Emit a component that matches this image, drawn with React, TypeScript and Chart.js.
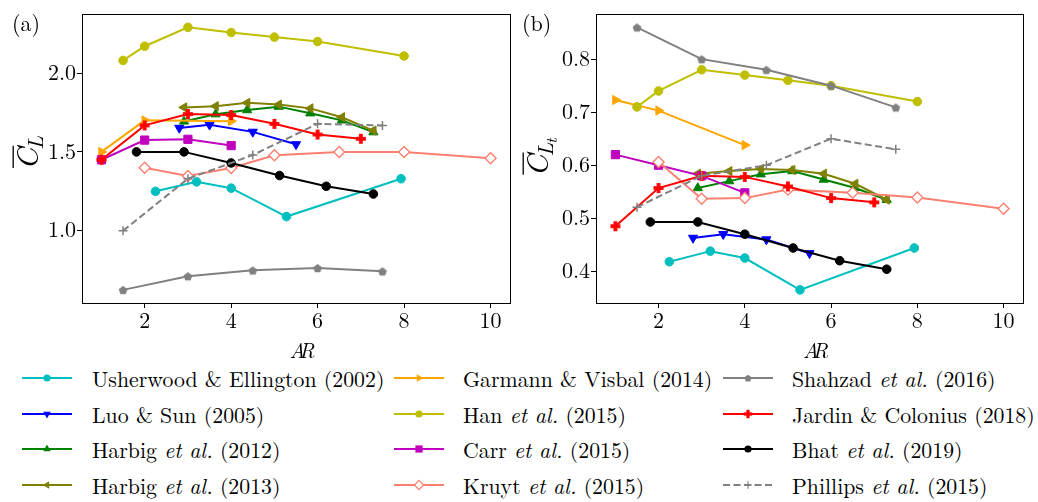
import React, { useEffect, useRef } from "react";
import { Chart, registerables } from "chart.js";
Chart.register(...registerables);

const FONT = "'Latin Modern Roman', 'Liberation Serif', serif";

// ---- data (aspect ratio AR, mean CL for panel a, mean CLt for panel b) ----
const arUsherwood = [2.25, 3.2, 4.0, 5.28, 7.93];
const clUsherwood = [1.25, 1.31, 1.27, 1.09, 1.33];
const cltUsherwood = [0.418, 0.438, 0.425, 0.365, 0.444];

const arLuo = [2.8, 3.5, 4.5, 5.5];
const clLuo = [1.652, 1.672, 1.627, 1.548];
const cltLuo = [0.463, 0.47, 0.46, 0.434];

const arHarbig = [2.91, 3.64, 4.37, 5.1, 5.83, 6.56, 7.29];
const clHarbig2012 = [1.693, 1.739, 1.765, 1.787, 1.745, 1.7, 1.625];
const cltHarbig2012 = [0.557, 0.57, 0.583, 0.589, 0.573, 0.557, 0.535];
const clHarbig2013 = [1.782, 1.79, 1.811, 1.8, 1.776, 1.72, 1.635];
const cltHarbig2013 = [0.584, 0.589, 0.593, 0.591, 0.584, 0.565, 0.535];

const arGarmann = [1, 2, 4];
const clGarmann = [1.5, 1.7, 1.695];
const cltGarmann = [0.723, 0.703, 0.638];

const arHan = [1.5, 2, 3, 4, 5, 6, 8];
const clHan = [2.08, 2.17, 2.29, 2.257, 2.228, 2.2, 2.108];
const cltHan = [0.71, 0.74, 0.78, 0.77, 0.76, 0.75, 0.72];

const arCarr = [1, 2, 3, 4];
const clCarr = [1.45, 1.575, 1.58, 1.54];
const cltCarr = [0.62, 0.6, 0.58, 0.548];

const arKruyt = [2, 3, 4, 5, 6.5, 8, 10];
const clKruyt = [1.4, 1.347, 1.398, 1.479, 1.5, 1.5, 1.46];
const cltKruyt = [0.606, 0.537, 0.538, 0.554, 0.548, 0.539, 0.518];

const arShahzad = [1.5, 3, 4.5, 6, 7.5];
const clShahzad = [0.625, 0.712, 0.749, 0.764, 0.743];
const cltShahzad = [0.86, 0.8, 0.78, 0.75, 0.709];

const arJardin = [1, 2, 3, 4, 5, 6, 7];
const clJardin = [1.45, 1.668, 1.74, 1.734, 1.678, 1.61, 1.583];
const cltJardin = [0.485, 0.557, 0.58, 0.578, 0.56, 0.538, 0.53];

const arBhat = [1.81, 2.91, 4.0, 5.12, 6.2, 7.29];
const clBhat = [1.5, 1.5, 1.43, 1.35, 1.282, 1.233];
const cltBhat = [0.493, 0.493, 0.47, 0.444, 0.42, 0.404];

const arPhillips = [1.5, 3, 4.5, 6, 7.5];
const clPhillips = [1.0, 1.33, 1.48, 1.678, 1.668];
const cltPhillips = [0.521, 0.58, 0.6, 0.65, 0.63];

const xTicks = [2, 4, 6, 8, 10];
const yTicksA = [1.0, 1.5, 2.0];
const yTicksB = [0.4, 0.5, 0.6, 0.7, 0.8];

type Mk = "circle" | "triDown" | "triUp" | "triLeft" | "triRight" | "square" | "diamond" | "pentagon" | "plusFilled" | "plus";

interface Series {
  pre: string;
  etal: boolean;
  year: string;
  x: number[];
  a: number[];
  b: number[];
  color: string;
  marker: Mk;
  dashed?: boolean;
}

const SERIES: Series[] = [
  { pre: "Usherwood & Ellington", etal: false, year: "(2002)", x: arUsherwood, a: clUsherwood, b: cltUsherwood, color: "#00bfbf", marker: "circle" },
  { pre: "Luo & Sun", etal: false, year: "(2005)", x: arLuo, a: clLuo, b: cltLuo, color: "#0000ff", marker: "triDown" },
  { pre: "Harbig", etal: true, year: "(2012)", x: arHarbig, a: clHarbig2012, b: cltHarbig2012, color: "#008000", marker: "triUp" },
  { pre: "Harbig", etal: true, year: "(2013)", x: arHarbig, a: clHarbig2013, b: cltHarbig2013, color: "#808000", marker: "triLeft" },
  { pre: "Garmann & Visbal", etal: false, year: "(2014)", x: arGarmann, a: clGarmann, b: cltGarmann, color: "#ffa500", marker: "triRight" },
  { pre: "Han", etal: true, year: "(2015)", x: arHan, a: clHan, b: cltHan, color: "#bfbf00", marker: "circle" },
  { pre: "Carr", etal: true, year: "(2015)", x: arCarr, a: clCarr, b: cltCarr, color: "#bf00bf", marker: "square" },
  { pre: "Kruyt", etal: true, year: "(2015)", x: arKruyt, a: clKruyt, b: cltKruyt, color: "#fa8072", marker: "diamond" },
  { pre: "Shahzad", etal: true, year: "(2016)", x: arShahzad, a: clShahzad, b: cltShahzad, color: "#808080", marker: "pentagon" },
  { pre: "Jardin & Colonius", etal: false, year: "(2018)", x: arJardin, a: clJardin, b: cltJardin, color: "#ff0000", marker: "plusFilled" },
  { pre: "Bhat", etal: true, year: "(2019)", x: arBhat, a: clBhat, b: cltBhat, color: "#000000", marker: "circle" },
  { pre: "Phillips", etal: true, year: "(2015)", x: arPhillips, a: clPhillips, b: cltPhillips, color: "#808080", marker: "plus", dashed: true },
];

function limits(vals: number[]): [number, number] {
  const mn = Math.min(...vals);
  const mx = Math.max(...vals);
  const m = (mx - mn) * 0.05;
  return [mn - m, mx + m];
}

function pentagonImage(color: string, r: number) {
  const s = Math.ceil(r * 2 + 2);
  const c = document.createElement("canvas");
  c.width = s;
  c.height = s;
  const g = c.getContext("2d")!;
  g.fillStyle = color;
  g.beginPath();
  for (let k = 0; k < 5; k++) {
    const ang = -Math.PI / 2 + (k * 2 * Math.PI) / 5;
    const px = s / 2 + r * Math.cos(ang);
    const py = s / 2 + 0.6 + r * Math.sin(ang);
    if (k === 0) g.moveTo(px, py);
    else g.lineTo(px, py);
  }
  g.closePath();
  g.fill();
  return c;
}

function plusImage(color: string, r: number, t: number) {
  const s = Math.ceil(r * 2 + 2);
  const c = document.createElement("canvas");
  c.width = s;
  c.height = s;
  const g = c.getContext("2d")!;
  g.fillStyle = color;
  g.fillRect(s / 2 - t, s / 2 - r, 2 * t, 2 * r);
  g.fillRect(s / 2 - r, s / 2 - t, 2 * r, 2 * t);
  return c;
}

function pointProps(s: Series) {
  const base: any = {
    pointBackgroundColor: s.color,
    pointBorderColor: s.color,
    pointBorderWidth: 1,
    pointRotation: 0,
  };
  switch (s.marker) {
    case "circle":
      return { ...base, pointStyle: "circle", pointRadius: 4.3 };
    case "triDown":
      return { ...base, pointStyle: "triangle", pointRadius: 5.3, pointRotation: 180 };
    case "triUp":
      return { ...base, pointStyle: "triangle", pointRadius: 5.3, pointRotation: 0 };
    case "triLeft":
      return { ...base, pointStyle: "triangle", pointRadius: 5.3, pointRotation: 270 };
    case "triRight":
      return { ...base, pointStyle: "triangle", pointRadius: 5.3, pointRotation: 90 };
    case "square":
      return { ...base, pointStyle: "rect", pointRadius: 5.8 };
    case "diamond":
      return { ...base, pointStyle: "rectRot", pointRadius: 5.5, pointBackgroundColor: "#ffffff", pointBorderWidth: 1.4 };
    case "pentagon":
      return { ...base, pointStyle: pentagonImage(s.color, 4.6), pointRadius: 4.5 };
    case "plusFilled":
      return { ...base, pointStyle: plusImage(s.color, 5, 1.9), pointRadius: 5 };
    case "plus":
      return { ...base, pointStyle: "cross", pointRadius: 4.5, pointBorderWidth: 1.5 };
  }
}

function makeChart(canvas: HTMLCanvasElement, panel: "a" | "b") {
  const isA = panel === "a";
  const allX = SERIES.flatMap((s) => s.x);
  const allY = SERIES.flatMap((s) => (isA ? s.a : s.b));
  const [xmin, xmax] = limits(allX);
  const [ymin, ymax] = limits(allY);
  const yTicks = isA ? yTicksA : yTicksB;

  const datasets = SERIES.map((s, i) => ({
    label: `${s.pre}${s.etal ? " et al." : ""} ${s.year}`,
    data: s.x.map((x, j) => ({ x, y: isA ? s.a[j] : s.b[j] })),
    borderColor: s.color,
    backgroundColor: s.color,
    borderWidth: 2,
    borderDash: s.dashed ? [7, 3.5] : [],
    tension: 0,
    fill: false,
    order: SERIES.length - i,
    ...pointProps(s),
  }));

  const decor = {
    id: "decor",
    afterDraw(chart: any) {
      const { ctx, chartArea: ca } = chart;
      ctx.save();
      // frame
      ctx.strokeStyle = "#000";
      ctx.lineWidth = 1;
      ctx.strokeRect(Math.round(ca.left) + 0.5, Math.round(ca.top) + 0.5, Math.round(ca.right - ca.left), Math.round(ca.bottom - ca.top));
      ctx.fillStyle = "#000";
      // panel letter
      ctx.font = `22px ${FONT}`;
      ctx.textBaseline = "alphabetic";
      ctx.textAlign = "left";
      ctx.fillText(isA ? "(a)" : "(b)", isA ? 12 : 2, 31);
      // x label (AR)
      ctx.font = `italic 21px ${FONT}`;
      const cx = (ca.left + ca.right) / 2 + 6;
      const wA = ctx.measureText("A").width;
      const wR = ctx.measureText("R").width;
      const ov = 6;
      const tot = wA + wR - ov;
      ctx.fillText("A", cx - tot / 2, ca.bottom + 55);
      ctx.fillText("R", cx - tot / 2 + wA - ov, ca.bottom + 55);
      // y label (C-bar with subscript)
      const yc = isA ? 152 : 156;
      const xb = isA ? 38 : 28;
      ctx.translate(xb, yc);
      ctx.rotate(-Math.PI / 2);
      const fC = 31;
      const fL = 22;
      const ft = 16;
      ctx.font = `italic ${fC}px ${FONT}`;
      const wC = ctx.measureText("C").width;
      ctx.font = `italic ${fL}px ${FONT}`;
      const wL = ctx.measureText("L").width;
      ctx.font = `italic ${ft}px ${FONT}`;
      const wt = isA ? 0 : ctx.measureText("t").width;
      const w = wC + wL + wt;
      const tx = -w / 2;
      ctx.font = `italic ${fC}px ${FONT}`;
      ctx.fillText("C", tx, 0);
      ctx.lineWidth = 1.3;
      ctx.beginPath();
      ctx.moveTo(tx + 2, -fC * 0.8);
      ctx.lineTo(tx + wC + 2, -fC * 0.8);
      ctx.stroke();
      ctx.font = `italic ${fL}px ${FONT}`;
      ctx.fillText("L", tx + wC - 2, 5);
      if (!isA) {
        ctx.font = `italic ${ft}px ${FONT}`;
        ctx.fillText("t", tx + wC + wL - 3, 9);
      }
      ctx.restore();
    },
  };

  return new Chart(canvas, {
    type: "line",
    data: { datasets: datasets as any },
    plugins: [decor],
    options: {
      responsive: false,
      animation: false,
      events: [],
      layout: { padding: { left: 0, top: 9, right: isA ? 10 : 15, bottom: 0 } },
      plugins: { legend: { display: false }, tooltip: { enabled: false } },
      scales: {
        x: {
          type: "linear",
          min: xmin,
          max: xmax,
          afterBuildTicks: (s: any) => {
            s.ticks = xTicks.map((v) => ({ value: v }));
          },
          afterFit: (s: any) => {
            s.height = 59;
          },
          grid: { drawOnChartArea: false, drawTicks: true, tickLength: 5, color: "#000", lineWidth: 1 },
          border: { display: false },
          ticks: {
            font: { family: FONT, size: 22 },
            color: "#000",
            padding: 0,
            maxRotation: 0,
            autoSkip: false,
            callback: (v: any) => String(v),
          },
        },
        y: {
          type: "linear",
          min: ymin,
          max: ymax,
          afterBuildTicks: (s: any) => {
            s.ticks = yTicks.map((v) => ({ value: v }));
          },
          afterFit: (s: any) => {
            s.width = isA ? 82 : 76;
          },
          grid: { drawOnChartArea: false, drawTicks: true, tickLength: 5, color: "#000", lineWidth: 1 },
          border: { display: false },
          ticks: {
            font: { family: FONT, size: 22 },
            color: "#000",
            padding: 1,
            autoSkip: false,
            callback: (v: any) => Number(v).toFixed(1),
          },
        },
      },
    } as any,
  });
}

function triPoints(cx: number, cy: number, r: number, rotDeg: number) {
  let rad = (rotDeg * Math.PI) / 180;
  const pts: string[] = [];
  for (let k = 0; k < 3; k++) {
    pts.push(`${cx + Math.sin(rad) * r},${cy - Math.cos(rad) * r}`);
    rad += (2 * Math.PI) / 3;
  }
  return pts.join(" ");
}

function LegendMarker({ s }: { s: Series }) {
  const cx = 25;
  const cy = 10;
  const c = s.color;
  switch (s.marker) {
    case "circle":
      return <circle cx={cx} cy={cy} r={3.6} fill={c} />;
    case "triDown":
      return <polygon points={triPoints(cx, cy, 4.4, 180)} fill={c} />;
    case "triUp":
      return <polygon points={triPoints(cx, cy, 4.4, 0)} fill={c} />;
    case "triLeft":
      return <polygon points={triPoints(cx, cy, 4.4, 270)} fill={c} />;
    case "triRight":
      return <polygon points={triPoints(cx, cy, 4.4, 90)} fill={c} />;
    case "square":
      return <rect x={cx - 3.6} y={cy - 3.6} width={7.2} height={7.2} fill={c} />;
    case "diamond":
      return <polygon points={`${cx},${cy - 4.6} ${cx + 4.6},${cy} ${cx},${cy + 4.6} ${cx - 4.6},${cy}`} fill="#fff" stroke={c} strokeWidth={1.3} />;
    case "pentagon": {
      const pts: string[] = [];
      for (let k = 0; k < 5; k++) {
        const a = -Math.PI / 2 + (k * 2 * Math.PI) / 5;
        pts.push(`${cx + 3.8 * Math.cos(a)},${cy + 0.5 + 3.8 * Math.sin(a)}`);
      }
      return <polygon points={pts.join(" ")} fill={c} />;
    }
    case "plusFilled":
      return (
        <g fill={c}>
          <rect x={cx - 1.6} y={cy - 4.2} width={3.2} height={8.4} />
          <rect x={cx - 4.2} y={cy - 1.6} width={8.4} height={3.2} />
        </g>
      );
    case "plus":
      return (
        <g stroke={c} strokeWidth={1.2}>
          <line x1={cx - 3.8} y1={cy} x2={cx + 3.8} y2={cy} />
          <line x1={cx} y1={cy - 3.8} x2={cx} y2={cy + 3.8} />
        </g>
      );
  }
  return null;
}

const handleLeft = [22, 394, 723];
const textLeft = [92, 463, 792];
const rowCenter = [378, 413.5, 449, 485];

export default function App() {
  const refA = useRef<HTMLCanvasElement>(null);
  const refB = useRef<HTMLCanvasElement>(null);

  useEffect(() => {
    let alive = true;
    const a = makeChart(refA.current!, "a");
    const b = makeChart(refB.current!, "b");
    const fonts = (document as any).fonts;
    if (fonts && fonts.load) {
      Promise.all([fonts.load(`22px "Latin Modern Roman"`), fonts.load(`italic 22px "Latin Modern Roman"`)])
        .then(() => {
          if (alive) {
            a.update();
            b.update();
          }
        })
        .catch(() => {});
    }
    return () => {
      alive = false;
      a.destroy();
      b.destroy();
    };
  }, []);

  return (
    <div style={{ position: "absolute", left: 0, top: 0, width: 1038, height: 502, background: "#fff", overflow: "hidden", fontFamily: FONT }}>
      <canvas ref={refA} width={520} height={362} style={{ position: "absolute", left: 0, top: 0, width: 520, height: 362 }} />
      <canvas ref={refB} width={518} height={362} style={{ position: "absolute", left: 520, top: 0, width: 518, height: 362 }} />
      {SERIES.map((s, i) => {
        const col = Math.floor(i / 4);
        const row = i % 4;
        const yc = rowCenter[row];
        return (
          <React.Fragment key={i}>
            <svg width={50} height={20} style={{ position: "absolute", left: handleLeft[col], top: yc - 10 }}>
              <line x1={0} y1={10} x2={50} y2={10} stroke={s.color} strokeWidth={2} strokeDasharray={s.dashed ? "7 3.5" : undefined} />
              <LegendMarker s={s} />
            </svg>
            <div style={{ position: "absolute", left: textLeft[col], top: yc - 13, height: 26, lineHeight: "26px", fontSize: 21.8, color: "#000", whiteSpace: "nowrap" }}>
              {s.pre} {s.etal ? <i>et al.</i> : null}{s.etal ? " " : ""}{s.year}
            </div>
          </React.Fragment>
        );
      })}
    </div>
  );
}
